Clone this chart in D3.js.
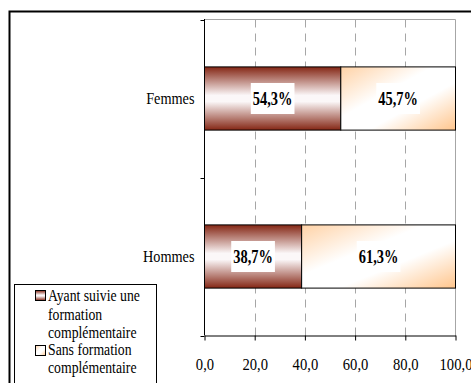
<!DOCTYPE html>
<html>
<head>
<meta charset="utf-8">
<script src="https://cdn.jsdelivr.net/npm/d3@7"></script>
<style>
  html, body { margin: 0; padding: 0; background: #fff; }
  svg { display: block; }
  text { font-family: "Liberation Serif", "Times New Roman", serif; fill: #000; }
</style>
</head>
<body>
<svg id="chart" width="471" height="383"></svg>
<script>
// Categories (top to bottom) and the two stacked series, in percent
const categories = ["Femmes", "Hommes"];
const seriesNames = ["Ayant suivie une formation complémentaire", "Sans formation complémentaire"];
const withTraining = [54.3, 38.7];
const withoutTraining = [45.7, 61.3];
const xTicks = [0, 20, 40, 60, 80, 100];
const legendLines = [
  ["Ayant suivie une", "formation", "complémentaire"],
  ["Sans formation", "complémentaire"]
];

const svg = d3.select("#chart");
const defs = svg.append("defs");

// Banded fill for the first series: dark red edges, white centre
const g1 = defs.append("linearGradient").attr("id", "fillA")
  .attr("x1", 0).attr("y1", 0).attr("x2", 0).attr("y2", 1);
[[0, "#842614"], [0.45, "#fbf7f8"], [0.55, "#fbf7f8"], [1, "#842614"]]
  .forEach(([o, c]) => g1.append("stop").attr("offset", o).attr("stop-color", c));

// Diagonal fill for the second series: light orange corners, white centre
const g2 = defs.append("linearGradient").attr("id", "fillB")
  .attr("x1", 0).attr("y1", 0).attr("x2", 1).attr("y2", 1);
[[0, "#ffd2a6"], [0.4, "#ffffff"], [0.62, "#ffffff"], [1, "#ffc58c"]]
  .forEach(([o, c]) => g2.append("stop").attr("offset", o).attr("stop-color", c));

const fills = ["url(#fillA)", "url(#fillB)"];

// Outer frame
svg.append("path")
  .attr("d", "M9.5,383 V11.5 H471")
  .attr("fill", "none").attr("stroke", "#000").attr("stroke-width", 2);

const plot = { left: 204.5, right: 455.5, top: 19.5, bottom: 335.5 };

const x = d3.scaleLinear().domain([0, 100]).range([plot.left, plot.right]);
const y = d3.scaleBand().domain(categories)
  .range([plot.top, plot.bottom])
  .paddingInner(0.6).paddingOuter(0.3);

const locale = d3.formatLocale({ decimal: ",", thousands: " ", grouping: [3], currency: ["", " €"] });
const fmtTick = locale.format(".1f");
const fmtPct = v => locale.format(".1f")(v) + "%";

// Grid lines and plot border
svg.append("g").selectAll("line").data(xTicks.filter(t => t > 0 && t < 100)).join("line")
  .attr("x1", d => Math.round(x(d)) + 0.5).attr("x2", d => Math.round(x(d)) + 0.5)
  .attr("y1", plot.top).attr("y2", plot.bottom)
  .attr("stroke", "#a6a6a6").attr("stroke-dasharray", "8,6");
svg.append("path")
  .attr("d", `M${plot.left},${plot.top} H${x(100)} V${plot.bottom}`)
  .attr("fill", "none").attr("stroke", "#a6a6a6");

// Stacked bars
const rows = categories.map((c, i) => ({ cat: c, vals: [withTraining[i], withoutTraining[i]] }));
const segs = [];
rows.forEach(r => {
  let acc = 0;
  r.vals.forEach((v, s) => { segs.push({ cat: r.cat, s, x0: acc, x1: acc + v, v }); acc += v; });
});

svg.append("g").selectAll("rect").data(segs).join("rect")
  .attr("x", d => x(d.x0)).attr("width", d => x(d.x1) - x(d.x0))
  .attr("y", d => y(d.cat)).attr("height", y.bandwidth())
  .attr("fill", d => fills[d.s])
  .attr("stroke", "#000").attr("stroke-width", 1);

// Value labels on white boxes
const sxVal = 0.76;
const labels = svg.append("g").selectAll("g").data(segs).join("g")
  .attr("transform", d => `translate(${(x(d.x0) + x(d.x1)) / 2},${y(d.cat) + y.bandwidth() / 2})`);
labels.each(function (d) {
  const g = d3.select(this);
  const bg = g.append("rect").attr("fill", "#fff");
  const t = g.append("text")
    .attr("text-anchor", "middle").attr("dy", "0.35em")
    .attr("transform", `scale(${sxVal},1)`)
    .style("font-size", "19px").style("font-weight", "bold")
    .text(fmtPct(d.v));
  const bb = t.node().getBBox();
  const w = bb.width * sxVal + 4, h = 31;
  bg.attr("x", -w / 2).attr("y", -h / 2).attr("width", w).attr("height", h);
});

// Bottom axis
const xAxis = svg.append("g")
  .attr("transform", `translate(0,${plot.bottom})`)
  .call(d3.axisBottom(x).tickValues(xTicks).tickFormat(fmtTick).tickSize(5).tickSizeOuter(0));
xAxis.select(".domain").attr("stroke", "#000");
xAxis.selectAll(".tick line").attr("stroke", "#000");
xAxis.selectAll(".tick text")
  .attr("y", 22).attr("dy", "0.71em")
  .attr("transform", "scale(0.86,1)")
  .style("font-size", "17px").style("font-family", "'Liberation Serif', serif");

// Left axis: line, boundary ticks, category labels
svg.append("line")
  .attr("x1", plot.left).attr("x2", plot.left).attr("y1", plot.top - 0.5).attr("y2", plot.bottom)
  .attr("stroke", "#000");
const bounds = [plot.top, ...categories.map(c => y(c) + y.bandwidth() / 2 + y.step() / 2)];
svg.append("g").selectAll("line").data(bounds).join("line")
  .attr("x1", plot.left - 4).attr("x2", plot.left)
  .attr("y1", d => Math.round(d) + 0.5).attr("y2", d => Math.round(d) + 0.5)
  .attr("stroke", "#000");
svg.append("g").selectAll("text").data(categories).join("text")
  .attr("transform", d => `translate(${plot.left - 10},${y(d) + y.bandwidth() / 2}) scale(0.84,1)`)
  .attr("text-anchor", "end").attr("dy", "0.35em")
  .style("font-size", "17px")
  .text(d => d);

// Legend
const lg = svg.append("g");
lg.append("rect").attr("x", 14.5).attr("y", 284.5).attr("width", 142).attr("height", 120)
  .attr("fill", "#fff").attr("stroke", "#000");
const baselines = [[301, 319.5, 338], [355, 373]];
const markerY = [290, 345];
seriesNames.forEach((name, i) => {
  lg.append("rect").attr("x", 35.5).attr("y", markerY[i] + 0.5).attr("width", 10).attr("height", 10)
    .attr("fill", fills[i]).attr("stroke", "#000");
  legendLines[i].forEach((line, j) => {
    lg.append("text")
      .attr("transform", `translate(48,${baselines[i][j]}) scale(0.86,1)`)
      .style("font-size", "16px")
      .text(line);
  });
});
</script>
</body>
</html>
